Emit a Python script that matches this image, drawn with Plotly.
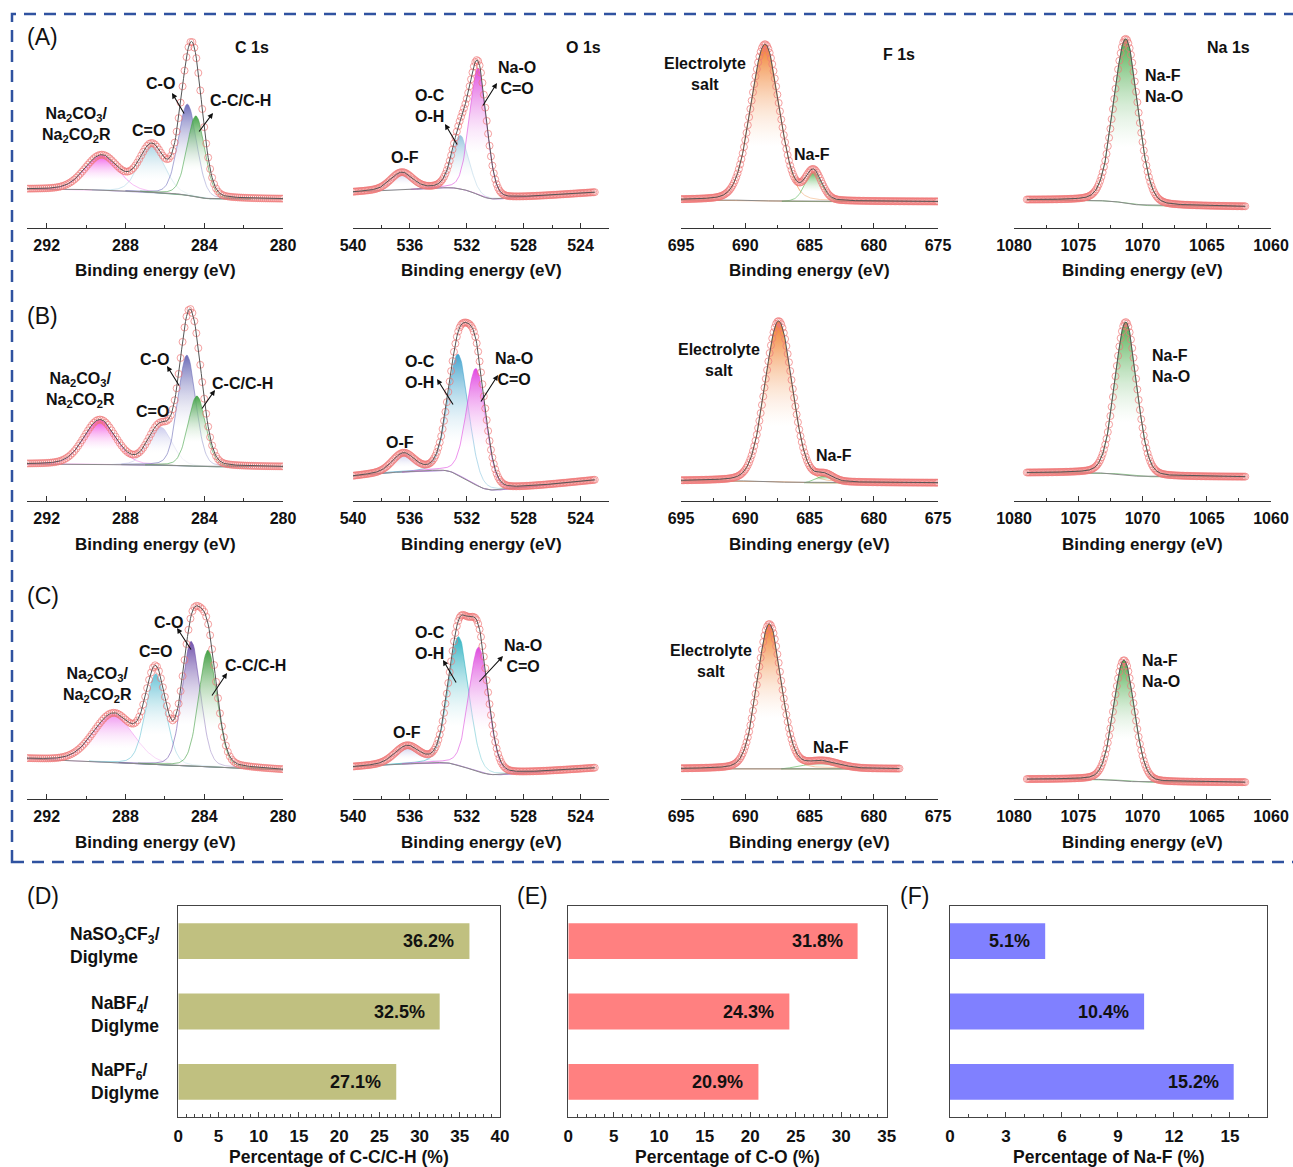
import numpy as np
import plotly.graph_objects as go

W, H = 1293, 1167
FONT = "Arial, Liberation Sans, sans-serif"

# ---------------- XPS peak-fit parameters (rows A, B, C) ----------------
# component centre (eV), height above background (normalised), FWHM (eV)
C1S_NAMES = ["Na2CO3/Na2CO2R", "C=O", "C-O", "C-C/C-H"]
C1S_CENTER = [[289.2, 286.66, 284.85, 284.42],
              [289.3, 286.24, 284.88, 284.37],
              [288.6, 286.46, 284.66, 283.81]]
C1S_HEIGHT = [[0.175, 0.235, 0.46, 0.41],
              [0.22, 0.19, 0.55, 0.35],
              [0.24, 0.45, 0.62, 0.58]]
C1S_FWHM = [[2.0, 1.5, 1.1, 1.05],
            [1.9, 1.4, 1.05, 1.05],
            [2.4, 1.2, 1.1, 1.1]]

O1S_NAMES = ["O-F", "O-C/O-H", "Na-O/C=O"]
O1S_CENTER = [[536.56, 532.45, 531.2],
              [536.45, 532.6, 531.34],
              [536.2, 532.57, 531.16]]
O1S_HEIGHT = [[0.085, 0.27, 0.64],
              [0.09, 0.60, 0.58],
              [0.085, 0.64, 0.62]]
O1S_FWHM = [[1.8, 1.4, 1.4],
            [1.8, 1.7, 1.6],
            [2.0, 1.7, 1.6]]

F1S_NAMES = ["Electrolyte salt", "Na-F"]
F1S_CENTER = [[688.46, 684.7], [687.4, 683.8], [688.13, 683.97]]
F1S_HEIGHT = [[0.79, 0.15], [0.80, 0.035], [0.72, 0.035]]
F1S_FWHM = [[2.6, 1.5], [2.5, 1.5], [2.2, 3.0]]

NA1S_NAMES = ["Na-F/Na-O"]
NA1S_CENTER = [[1071.3], [1071.3], [1071.44]]
NA1S_HEIGHT = [[0.83], [0.76], [0.60]]
NA1S_FWHM = [[2.2], [2.0], [1.9]]

# scan windows (low BE, high BE) per element and row
SCAN_C1S = [(280.0, 293.0), (280.0, 293.0), (280.0, 293.0)]
SCAN_O1S = [(523.0, 540.0), (523.0, 540.0), (523.0, 540.0)]
SCAN_F1S = [(675.0, 695.0), (675.0, 695.0), (678.0, 695.0)]
SCAN_NA1S = [(1062.0, 1079.0), (1062.0, 1079.0), (1062.0, 1079.0)]

# background: level at low-BE end, linear slope (per eV), Shirley step height
BG_C1S = [(0.146, 0.0, 0.05), (0.17, 0.0, 0.014), (0.144, 0.0043, 0.0)]
BG_O1S = [(0.18, -0.0052, 0.09), (0.104, -0.0077, 0.15), (0.154, -0.0053, 0.095)]
BG_F1S = [(0.133, 0.0, 0.008), (0.09, 0.0, 0.01), (0.15, 0.0, 0.0)]
BG_NA1S = [(0.108, 0.0005, 0.025), (0.12, 0.0, 0.02), (0.083, 0.0, 0.015)]

C1S_COLORS = [["#f050e8", "#a8d4e4", "#6868b8", "#3ca040"],
              ["#f040e0", "#c8c8ec", "#6464b4", "#3ca040"],
              ["#f090f0", "#60c0d4", "#6a4aa8", "#3a9a3a"]]
O1S_COLORS = [["#c8c8ec", "#8ec0dc", "#dd44dd"],
              ["#c8c8ec", "#3aa0cc", "#e040e0"],
              ["#c8c8ec", "#28b0c0", "#dd44dd"]]
F1S_COLORS = [["#f07820", "#48b048"]] * 3
NA1S_COLORS = [["#40a840"]] * 3

# ---------------- bar-chart data ----------------
ELECTROLYTES = ["NaSO<sub>3</sub>CF<sub>3</sub>/<br>Diglyme",
                "NaBF<sub>4</sub>/<br>Diglyme",
                "NaPF<sub>6</sub>/<br>Diglyme"]
PCT_CC = [36.2, 32.5, 27.1]
PCT_CO = [31.8, 24.3, 20.9]
PCT_NAF = [5.1, 10.4, 15.2]

# ---------------- layout geometry (pixels) ----------------
COL_X = [(27, 283), (353, 609), (681, 938), (1014, 1271)]
ROW_Y = [(30, 228), (300, 501), (598, 799)]
BAR_X = [(178.3, 500), (568.3, 886.7), (950, 1267.3)]
BAR_Y = (906, 1117)


def px(x):
    return x / W


def py(y):
    return 1 - y / H


def profile(E, c, h, w, eta=0.15):
    s = w / 2.3548
    g = np.exp(-0.5 * ((E - c) / s) ** 2)
    lor = 1.0 / (1.0 + ((E - c) / (w / 2)) ** 2)
    return h * ((1 - eta) * g + eta * lor)


fig = go.Figure()
layout = {}

elements = [
    ("C", C1S_CENTER, C1S_HEIGHT, C1S_FWHM, C1S_COLORS, SCAN_C1S, BG_C1S, (293, 280), 4, 2, 280),
    ("O", O1S_CENTER, O1S_HEIGHT, O1S_FWHM, O1S_COLORS, SCAN_O1S, BG_O1S, (540, 522), 4, 2, 524),
    ("F", F1S_CENTER, F1S_HEIGHT, F1S_FWHM, F1S_COLORS, SCAN_F1S, BG_F1S, (695, 675), 5, 2.5, 675),
    ("Na", NA1S_CENTER, NA1S_HEIGHT, NA1S_FWHM, NA1S_COLORS, SCAN_NA1S, BG_NA1S, (1080, 1060), 5, 2.5, 1060),
]
STEP = 0.05      # evaluation grid (eV)
MARK_EVERY = 2   # one fit circle every 0.1 eV

ax_i = 0
for r in range(3):
    for c, (el, CEN, HGT, FW, COLS, SCAN, BG, rng, dt, mdt, t0) in enumerate(elements):
        ax_i += 1
        xa = "x" if ax_i == 1 else f"x{ax_i}"
        ya = "y" if ax_i == 1 else f"y{ax_i}"
        lo, hi = SCAN[r]
        E = np.arange(lo, hi + STEP / 2, STEP)
        comps = [profile(E, CEN[r][k], HGT[r][k], FW[r][k]) for k in range(len(CEN[r]))]
        total = np.sum(comps, axis=0)
        cum = np.cumsum(total)
        cum = cum / cum[-1]
        b0, slope, stp = BG[r]
        bg = b0 + slope * (E - lo) + stp * cum
        env = bg + total

        for k, comp in enumerate(comps):
            m = comp > 0.002
            xs = np.concatenate([E[m], E[m][::-1]])
            ys = np.concatenate([bg[m] + comp[m], bg[m][::-1]])
            col = COLS[r][k]
            fig.add_trace(go.Scatter(
                x=xs, y=ys, xaxis=xa, yaxis=ya, mode="lines", fill="toself",
                line=dict(color=col, width=0.6),
                fillgradient=dict(type="vertical",
                                  colorscale=[[0, "rgba(255,255,255,0.5)"], [0.35, "rgba(255,255,255,0.3)"], [1, col]]),
                opacity=0.95, showlegend=False, hoverinfo="skip"))

        fig.add_trace(go.Scatter(x=E, y=bg, xaxis=xa, yaxis=ya, mode="lines",
                                 line=dict(color="#8a8a8a", width=1), showlegend=False))
        fig.add_trace(go.Scatter(x=E[::MARK_EVERY], y=env[::MARK_EVERY], xaxis=xa, yaxis=ya, mode="markers",
                                 marker=dict(symbol="circle-open", size=7, color="rgba(240,120,120,0.7)",
                                             line=dict(width=1)),
                                 showlegend=False))
        fig.add_trace(go.Scatter(x=E, y=env, xaxis=xa, yaxis=ya, mode="lines",
                                 line=dict(color="#555555", width=1), showlegend=False))

        x0, x1 = COL_X[c]
        y0, y1 = ROW_Y[r]
        layout["xaxis" if ax_i == 1 else f"xaxis{ax_i}"] = dict(
            domain=[px(x0), px(x1)], range=list(rng), anchor=ya, automargin=False,
            showline=True, linecolor="#333", linewidth=1.3, mirror=False,
            ticks="inside", ticklen=5, tickwidth=1.2, tickcolor="#333",
            tick0=t0, dtick=dt,
            minor=dict(ticks="inside", ticklen=3, dtick=mdt, tick0=t0, tickcolor="#333", tickwidth=1),
            showgrid=False, zeroline=False, ticklabelstandoff=3,
            tickfont=dict(family=FONT, size=16, color="#111", weight="bold"))
        layout["yaxis" if ax_i == 1 else f"yaxis{ax_i}"] = dict(
            domain=[py(y1), py(y0)], range=[0, 1], anchor=xa, visible=False, automargin=False)

# ---------------- bar charts ----------------
BAR_SERIES = [(PCT_CC, "#c0c080", 40, 5, "Percentage of C-C/C-H (%)"),
              (PCT_CO, "#ff8080", 35, 5, "Percentage of C-O (%)"),
              (PCT_NAF, "#8080ff", 17, 3, "Percentage of Na-F (%)")]


def note(text, x, y, size=16, xanchor="center", align="center", **kw):
    return dict(x=px(x), y=py(y), xref="paper", yref="paper", text=text, showarrow=False,
                xanchor=xanchor, yanchor="middle", align=align,
                font=dict(family=FONT, size=size, color="#111"), **kw)


annotations = []
for j, (vals, col, xmax, dt, title) in enumerate(BAR_SERIES):
    ax_i += 1
    xa, ya = f"x{ax_i}", f"y{ax_i}"
    fig.add_trace(go.Bar(x=vals, y=list(range(len(vals))), orientation="h", width=0.51,
                         marker=dict(color=col, line=dict(width=0)), xaxis=xa, yaxis=ya,
                         showlegend=False))
    for i, v in enumerate(vals):
        annotations.append(dict(x=v, y=i, xref=xa, yref=ya, text=f"<b>{v:.1f}%</b>",
                                showarrow=False, xanchor="right", yanchor="middle", xshift=-13,
                                font=dict(family=FONT, size=18, color="#111")))
    x0, x1 = BAR_X[j]
    layout[f"xaxis{ax_i}"] = dict(
        domain=[px(x0), px(x1)], range=[0, xmax], anchor=ya, automargin=False,
        showline=True, linecolor="#444", linewidth=1.3, mirror=True,
        ticks="inside", ticklen=5, tickwidth=1.2, tickcolor="#444", tick0=0, dtick=dt,
        minor=dict(ticks="inside", ticklen=3, dtick=1, tickcolor="#444", tickwidth=1),
        showgrid=False, zeroline=False, ticklabelstandoff=3,
        tickfont=dict(family=FONT, size=17, color="#111", weight="bold"))
    layout[f"yaxis{ax_i}"] = dict(
        domain=[py(BAR_Y[1]), py(BAR_Y[0])], range=[2.5, -0.5], anchor=xa, automargin=False,
        showline=True, linecolor="#444", linewidth=1.3, mirror=True,
        showticklabels=False, ticks="", showgrid=False, zeroline=False)
    annotations.append(note(f"<b>{title}</b>", (x0 + x1) / 2, 1157, size=17.5))

# electrolyte names beside the bars
for name, xl, yc in zip(ELECTROLYTES, [68, 89, 89], [945, 1014, 1081]):
    annotations.append(note(f"<b>{name}</b>", xl, yc, size=17.5, xanchor="left", align="left"))

# ---------------- text labels on the spectra ----------------
NA2 = "Na<sub>2</sub>CO<sub>3</sub>/<br>Na<sub>2</sub>CO<sub>2</sub>R"
LABELS = [
    ("C 1s", 252, 47), ("O 1s", 583, 47), ("F 1s", 899, 54), ("Na 1s", 1228, 48),
    # row A
    (NA2, 76, 125), ("C=O", 148, 131), ("C-O", 160, 83), ("C-C/C-H", 240, 100),
    ("O-F", 405, 157), ("O-C<br>O-H", 430, 106), ("Na-O<br>C=O", 517, 78),
    ("Electrolyte<br>salt", 705, 74), ("Na-F", 812, 155),
    # row B
    (NA2, 80, 390), ("C=O", 152, 412), ("C-O", 154, 360), ("C-C/C-H", 242, 383),
    ("O-F", 400, 442), ("O-C<br>O-H", 420, 372), ("Na-O<br>C=O", 514, 369),
    ("Electrolyte<br>salt", 719, 360), ("Na-F", 834, 456),
    # row C
    (NA2, 97, 685), ("C=O", 155, 651), ("C-O", 168, 622), ("C-C/C-H", 255, 665),
    ("O-F", 407, 732), ("O-C<br>O-H", 430, 643), ("Na-O<br>C=O", 523, 656),
    ("Electrolyte<br>salt", 711, 661), ("Na-F", 831, 747),
]
LEFT_LABELS = [("Na-F<br>Na-O", 1143, 86), ("Na-F<br>Na-O", 1150, 366), ("Na-F<br>Na-O", 1140, 671)]

for text, x, y in LABELS:
    annotations.append(note(f"<b>{text}</b>", x, y))
for text, x, y in LEFT_LABELS:
    annotations.append(note(f"<b>{text}</b>", x, y, xanchor="left", align="left"))

# leader arrows (head, tail) in pixels
ARROWS = [((172, 93), (185, 115)), ((213, 113), (198, 133)),
          ((445, 124), (458, 146)), ((497, 83), (482, 107)),
          ((167, 366), (180, 387)), ((215, 390), (201, 410)),
          ((437, 379), (454, 406)), ((498, 375), (480, 403)),
          ((177, 628), (192, 651)), ((227, 673), (211, 697)),
          ((443, 660), (457, 684)), ((503, 656), (478, 683))]
for (hx, hy), (tx, ty) in ARROWS:
    annotations.append(dict(x=px(hx), y=py(hy), xref="paper", yref="paper", text="",
                            showarrow=True, arrowhead=2, arrowsize=1, arrowwidth=1.1,
                            arrowcolor="#111", ax=tx - hx, ay=ty - hy))

# axis titles of the spectra
for yt in [270, 544, 842]:
    for (x0, x1) in COL_X:
        annotations.append(note("<b>Binding energy (eV)</b>", (x0 + x1) / 2, yt, size=17))

# panel letters
for t, x, y in [("(A)", 25, 37), ("(B)", 25, 316), ("(C)", 25, 596),
                ("(D)", 25, 896), ("(E)", 515, 896), ("(F)", 898, 896)]:
    annotations.append(note(t, x, y, size=23, xanchor="left"))

fig.update_layout(
    template="none",
    width=W, height=H, margin=dict(l=0, r=0, t=0, b=0, autoexpand=False),
    paper_bgcolor="white", plot_bgcolor="white", showlegend=False,
    annotations=annotations,
    shapes=[dict(type="rect", xref="paper", yref="paper",
                 x0=px(12), x1=px(1310), y0=py(862), y1=py(14),
                 line=dict(color="#2f52a0", width=2.5, dash="12px,8px"))],
    **layout)

fig.write_html("out.html")
